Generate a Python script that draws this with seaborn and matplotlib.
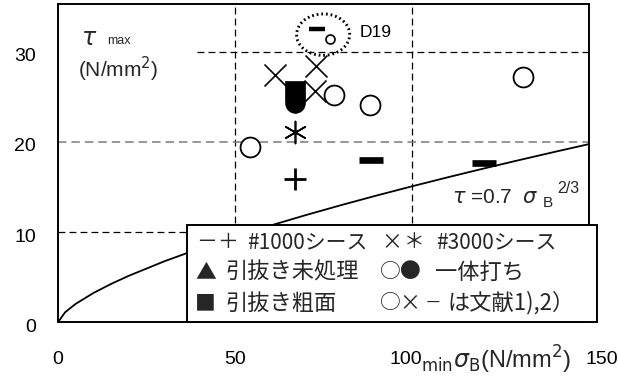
import numpy as np
import pandas as pd
import matplotlib
matplotlib.use("Agg")
import matplotlib.pyplot as plt
import matplotlib.transforms as mtransforms
from matplotlib.patches import Ellipse, Rectangle
import seaborn as sns

# ---- data: max bond stress tau_max vs. concrete strength sigma_B ----
open_circle_x = [54.1, 77.9, 88.2, 131.3]
open_circle_y = [19.4, 25.2, 24.1, 27.2]
dash_x = [88.4, 120.4]
dash_y = [17.95, 17.7]
plus_x = [66.9]
plus_y = [15.85]
cross_x = [61.2, 72.8, 72.5]
cross_y = [27.4, 28.45, 25.7]
asterisk_x = [66.9]
asterisk_y = [21.05]
square_x = [66.9]
square_y = [25.65]
filled_circle_x = [66.9]
filled_circle_y = [24.35]
d19_dash_x = [73.2]
d19_dash_y = [32.5]
d19_circle_x = [76.8]
d19_circle_y = [31.45]

# design curve tau = 0.7 * sigma_B^(2/3)
curve_coef = 0.7
curve_sigma = [0, 2, 5, 10, 15, 20, 30, 40, 50, 60, 70, 80, 90, 100, 110, 120, 130, 140, 150]

x_ticks = [0, 50, 100, 150]
y_ticks = [0, 10, 20, 30]

W, H = 618, 385
sns.set_theme(style="white")
plt.rcParams["font.family"] = ["Liberation Sans", "Noto Sans CJK JP", "DejaVu Sans"]
plt.rcParams["mathtext.fontset"] = "dejavusans"
CJK = ["Noto Sans CJK JP", "DejaVu Sans"]

fig = plt.figure(figsize=(W / 100, H / 100), dpi=100)
fig.patch.set_facecolor("white")
L, R, B, T = 58, 589, 322.3, 4
ax = fig.add_axes([L / W, 1 - B / H, (R - L) / W, (B - T) / H])
ax.set_facecolor("white")
ax.set_xlim(0, 150)
ax.set_ylim(0, 35.3)

def fx(px):
    return px / W

def fy(py):
    return 1 - py / H

# grid lines
dash = (0, (5.5, 3.3))
ax.axvline(50, color="black", lw=0.9, ls=dash, zorder=1)
ax.axvline(100, color="black", lw=0.9, ls=dash, zorder=1)
ax.axhline(10, color="black", lw=0.9, ls=dash, zorder=1)
ax.axhline(20, color="#7a7a7a", lw=1.1, ls=dash, zorder=1)
ax.axhline(30, xmin=(197 - L) / (R - L), color="black", lw=0.9, ls=dash, zorder=1)

# design curve
curve_df = pd.DataFrame({"sigma": curve_sigma})
curve_df["tau"] = curve_coef * np.power(curve_df["sigma"].astype(float), 2 / 3)
sns.lineplot(data=curve_df, x="sigma", y="tau", color="black", lw=1.3, ax=ax, zorder=2)

# markers
sns.scatterplot(x=open_circle_x, y=open_circle_y, marker="o", s=205,
                facecolor="white", edgecolor="black", linewidth=1.3, ax=ax, zorder=4)
sns.scatterplot(x=d19_circle_x, y=d19_circle_y, marker="o", s=42,
                facecolor="white", edgecolor="black", linewidth=1.2, ax=ax, zorder=4)
sns.scatterplot(x=dash_x, y=dash_y, marker="_", s=290, color="black",
                linewidth=4.8, ax=ax, zorder=4)
sns.scatterplot(x=d19_dash_x, y=d19_dash_y, marker="_", s=117, color="black",
                linewidth=3.2, ax=ax, zorder=4)
sns.scatterplot(x=plus_x, y=plus_y, marker="+", s=250, color="black",
                linewidth=2.0, ax=ax, zorder=4)
sns.scatterplot(x=cross_x, y=cross_y, marker="x", s=250, color="black",
                linewidth=1.2, ax=ax, zorder=4)
sns.scatterplot(x=asterisk_x, y=asterisk_y, marker=(6, 2, 0), s=250, color="black",
                linewidth=1.2, ax=ax, zorder=4)
sns.scatterplot(x=filled_circle_x, y=filled_circle_y, marker="o", s=200,
                color="black", edgecolor="black", linewidth=0.5, ax=ax, zorder=5)
sns.scatterplot(x=square_x, y=square_y, marker="s", s=200,
                color="black", edgecolor="black", linewidth=0.5, ax=ax, zorder=5)

# dotted ring around the D19 specimens
ax.add_patch(Ellipse((74.9, 31.9), 15.0, 4.6, fill=False, edgecolor="black",
                     lw=2.1, ls=(0, (0.6, 1.0)), zorder=3))
ax.text(85.3, 32.1, "D19", fontsize=12.5, va="center", ha="left", color="black")

# axes frame and ticks
for s in ax.spines.values():
    s.set_visible(True)
    s.set_color("black")
    s.set_linewidth(1.4)
ax.set_xticks(x_ticks)
ax.set_yticks(y_ticks)
ax.set_xticklabels([str(v) for v in x_ticks], fontsize=14)
ax.set_yticklabels([str(v) for v in y_ticks], fontsize=14)
ax.tick_params(axis="y", direction="in", length=4, width=1.0, pad=16, colors="black")
ax.tick_params(axis="x", length=0, pad=21, colors="black")
ax.set_xlabel("")
ax.set_ylabel("")
for lab in ax.get_yticklabels():
    lab.set_transform(lab.get_transform() +
                      mtransforms.ScaledTranslation(0, -3 / 100, fig.dpi_scale_trans))
x_shift = {"100": -6, "150": 13}
for lab in ax.get_xticklabels():
    dx = x_shift.get(lab.get_text(), 0)
    lab.set_transform(lab.get_transform() +
                      mtransforms.ScaledTranslation(dx / 100, 0, fig.dpi_scale_trans))

# y-axis title
fig.text(fx(81), fy(45), r"$\tau$", fontsize=17, ha="left", va="baseline")
fig.text(fx(107), fy(44), "max", fontsize=9, ha="left", va="baseline")
fig.text(fx(78), fy(77), r"(N/mm$^{2}$)", fontsize=15, ha="left", va="baseline")

# x-axis title
fig.text(fx(421), fy(369), r"${}_{\mathrm{min}}\sigma_{\mathrm{B}}$(N/mm$^{2}$)",
         fontsize=17, ha="left", va="baseline")

# design curve label
fig.text(fx(452), fy(203), r"$\tau$ =0.7", fontsize=15, ha="left", va="baseline")
fig.text(fx(522), fy(203), r"$\sigma$", fontsize=15, ha="left", va="baseline")
fig.text(fx(543), fy(207), "B", fontsize=11, ha="left", va="baseline")
fig.text(fx(557), fy(193), "2/3", fontsize=11.5, ha="left", va="baseline")

# legend panel
fig.add_artist(Rectangle((fx(187.3), fy(322.3)), (597 - 187.3) / W, (322.3 - 225) / H,
                         transform=fig.transFigure, facecolor="white",
                         edgecolor="black", lw=1.4, zorder=10))
leg_items = [
    (196, 242, "－", 15), (217, 242, "＋", 15), (247, 242, "#1000シース", 15),
    (381, 242, "×", 15), (404, 242, "＊", 15), (436, 242, "#3000シース", 15),
    (195, 272, "▲", 15), (225, 272, "引抜き未処理", 16),
    (380, 272, "○", 15), (400, 272, "●", 15), (435, 272, "一体打ち", 16),
    (195, 303, "■", 15), (225, 303, "引抜き粗面", 16),
    (380, 303, "○", 15), (399, 303, "×", 15), (425, 303, "－", 12), (447, 303, "は文献1),2）", 16),
]
for px, py, s, fs in leg_items:
    fig.text(fx(px), fy(py), s, fontsize=fs, family=CJK, ha="left",
             va="center", zorder=11)

fig.savefig("out.png", dpi=100, facecolor="white")
